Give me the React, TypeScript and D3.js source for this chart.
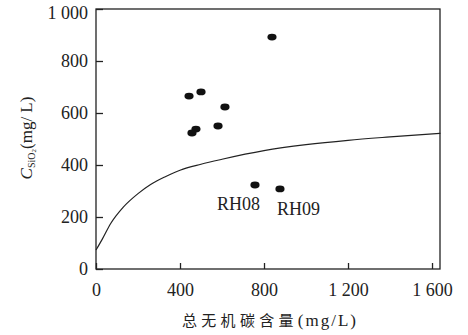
import React, { useEffect, useRef } from "react";
import * as d3 from "d3";

// measured samples (total inorganic carbon, SiO2)
const carbon = [838, 443, 500, 614, 476, 457, 581, 757, 876];
const silica = [892, 665, 681, 623, 538, 523, 550, 323, 308];
const sampleNames = ["", "", "", "", "", "", "", "RH08", "RH09"];

// saturation curve
const curveX = [0, 30, 70, 130, 200, 260, 330, 400, 500, 600, 800, 1000, 1200, 1400, 1640];
const curveY = [73, 115, 175, 238, 290, 325, 355, 380, 403, 422, 455, 478, 495, 508, 522];

const xTicks = [0, 400, 800, 1200, 1600];
const xTickLabels = ["0", "400", "800", "1 200", "1 600"];
const yTicks = [0, 200, 400, 600, 800, 1000];
const yTickLabels = ["0", "200", "400", "600", "800", "1 000"];

const App = () => {
  const ref = useRef<SVGSVGElement | null>(null);

  useEffect(() => {
    const svg = d3.select(ref.current);
    svg.selectAll("*").remove();

    const left = 96, right = 440, top = 9, bottom = 269;
    const x = d3.scaleLinear().domain([0, 1638]).range([left, right]);
    const y = d3.scaleLinear().domain([0, 1000]).range([bottom, top]);
    const font = "'Liberation Serif', 'Times New Roman', serif";

    // frame
    svg.append("rect")
      .attr("x", left).attr("y", top)
      .attr("width", right - left).attr("height", bottom - top)
      .attr("fill", "none").attr("stroke", "#222").attr("stroke-width", 1.3);

    // x axis
    const xAxis = svg.append("g")
      .attr("transform", "translate(0," + bottom + ")")
      .call(d3.axisBottom(x).tickValues(xTicks).tickSizeInner(-6).tickSizeOuter(0)
        .tickFormat((d, i) => xTickLabels[i]).tickPadding(14));
    xAxis.select(".domain").remove();
    xAxis.selectAll("line").attr("stroke", "#222").attr("stroke-width", 1.3);
    xAxis.selectAll("text").attr("font-family", font).attr("font-size", 18).attr("fill", "#222");

    // y axis
    const yAxis = svg.append("g")
      .attr("transform", "translate(" + left + ",0)")
      .call(d3.axisLeft(y).tickValues(yTicks).tickSizeInner(-7).tickSizeOuter(0)
        .tickFormat((d, i) => yTickLabels[i]).tickPadding(8));
    yAxis.select(".domain").remove();
    yAxis.selectAll("line").attr("stroke", "#222").attr("stroke-width", 1.3);
    yAxis.selectAll("text").attr("font-family", font).attr("font-size", 18).attr("fill", "#222");
    // top label sits a little below its tick
    yAxis.selectAll("text").filter((d) => d === 1000).attr("dy", "0.5em");

    // curve
    const curvePts = curveX.map((v, i) => [v, curveY[i]] as [number, number]);
    svg.append("path")
      .datum(curvePts)
      .attr("fill", "none")
      .attr("stroke", "#222")
      .attr("stroke-width", 1.2)
      .attr("d", d3.line<[number, number]>()
        .x(d => x(d[0]))
        .y(d => y(d[1]))
        .curve(d3.curveMonotoneX));

    // points
    svg.append("g")
      .selectAll("ellipse")
      .data(carbon)
      .enter()
      .append("ellipse")
      .attr("cx", d => x(d))
      .attr("cy", (d, i) => y(silica[i]))
      .attr("rx", 4.6)
      .attr("ry", 3.4)
      .attr("fill", "#111");

    // sample labels
    svg.append("text")
      .attr("x", x(carbon[7]) + 5).attr("y", y(silica[7]) + 25)
      .attr("text-anchor", "end")
      .attr("font-family", font).attr("font-size", 18).attr("fill", "#222")
      .text(sampleNames[7]);
    svg.append("text")
      .attr("x", x(carbon[8]) - 3).attr("y", y(silica[8]) + 26)
      .attr("text-anchor", "start")
      .attr("font-family", font).attr("font-size", 18).attr("fill", "#222")
      .text(sampleNames[8]);

    // x title
    const xt = svg.append("text")
      .attr("x", 182).attr("y", 326)
      .attr("fill", "#222");
    xt.append("tspan")
      .attr("font-family", "'Noto Sans CJK SC', sans-serif")
      .attr("font-size", 15).attr("letter-spacing", 4.3)
      .text("总无机碳含量");
    xt.append("tspan")
      .attr("font-family", font).attr("font-size", 17).attr("letter-spacing", 2)
      .text("(mg/L)");

    // y title
    const yt = svg.append("text")
      .attr("transform", "translate(32,138) rotate(-90)")
      .attr("text-anchor", "middle")
      .attr("font-family", font).attr("font-size", 17).attr("fill", "#222");
    yt.append("tspan").attr("font-style", "italic").text("C");
    yt.append("tspan").attr("font-size", 10).attr("dy", 3).text("SiO");
    yt.append("tspan").attr("font-size", 7).attr("dy", 1).text("2");
    yt.append("tspan").attr("dy", -4).text("(mg/ L)");
  }, []);

  return (
    <svg
      ref={ref}
      width={468}
      height={335}
      style={{ position: "absolute", left: 0, top: 0, background: "#fff" }}
    />
  );
};

export default App;
